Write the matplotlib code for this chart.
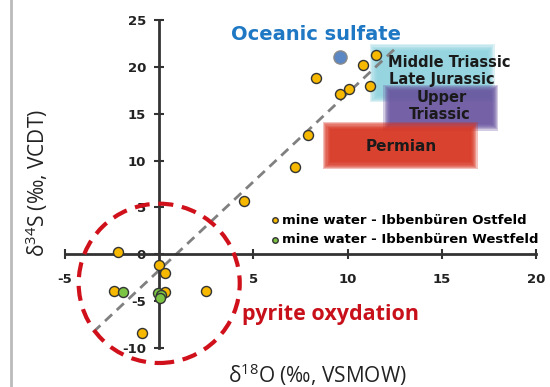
import matplotlib
matplotlib.use("Agg")
import matplotlib.pyplot as plt
from matplotlib.patches import Ellipse, Rectangle
from matplotlib.lines import Line2D

plt.rcParams["axes.unicode_minus"] = False
plt.rcParams["mathtext.fontset"] = "custom"
plt.rcParams["mathtext.rm"] = "Open Sans"

# mine water samples (d18O, d34S)
ost_x = [11.5, 10.8, 8.3, 11.2, 10.1, 9.6, 7.9, 7.2, 4.5, -2.2, 0.0, 0.3, -2.4, 2.5, 0.3, -0.9]
ost_y = [21.3, 20.2, 18.8, 18.0, 17.6, 17.1, 12.7, 9.3, 5.7, 0.2, -1.1, -2.0, -3.9, -3.9, -4.0, -8.4]
west_x = [-1.9, -0.05, 0.1, 0.05]
west_y = [-4.0, -4.1, -4.3, -4.7]
ocean_x = [9.6]
ocean_y = [21.1]
trend_x = [-3.5, 12.5]
trend_y = [-8.3, 21.9]

xticks = [-5, 5, 10, 15, 20]
yticks = [-10, -5, 0, 5, 10, 15, 20, 25]

# period boxes: x0, x1, y0, y1
periods = {
    "cyan": (11.5, 17.5, 16.8, 21.8),
    "purple": (12.2, 17.7, 13.8, 17.5),
    "red": (9.0, 16.6, 9.7, 13.5),
}

fig = plt.figure(figsize=(5.5, 3.87), dpi=100)
ax = fig.add_axes([65 / 550, 39 / 387, 471 / 550, 328 / 387])
ax.set_xlim(-5, 20)
ax.set_ylim(-10, 25)

for s in ["top", "right"]:
    ax.spines[s].set_visible(False)
ax.spines["left"].set_position(("data", 0))
ax.spines["bottom"].set_position(("data", 0))
for s in ["left", "bottom"]:
    ax.spines[s].set_color("#333333")
    ax.spines[s].set_linewidth(2)
ax.set_xticks(xticks)
ax.set_yticks(yticks)
ax.tick_params(direction="inout", length=7, width=1.5, color="#333333",
               labelsize=9.5)
ax.tick_params(axis="x", pad=10)
ax.tick_params(axis="y", pad=6)
for lab in ax.get_xticklabels() + ax.get_yticklabels():
    lab.set_fontweight("bold")
    lab.set_color("#222222")
ax.patch.set_alpha(0)

# period boxes, soft edges
cols = {"cyan": "#8fd3df", "purple": "#6a559f", "red": "#d8321f"}
for k, (x0, x1, y0, y1) in periods.items():
    for i in range(7):
        pad = 0.3 - i * 0.06
        r = Rectangle((x0 - pad, y0 - pad * 2), x1 - x0 + 2 * pad, y1 - y0 + 4 * pad,
                      color=cols[k], alpha=0.3, lw=0, clip_on=False, zorder=1)
        ax.add_patch(r)

tk = dict(fontweight="bold", color="#1a1a1a", ha="center", va="center", zorder=6)
ax.text(15.4, 20.5, "Middle Triassic", fontsize=10.5, **tk)
ax.text(15.0, 18.6, "Late Jurassic", fontsize=10.5, **tk)
ax.text(15.0, 16.7, "Upper", fontsize=10.5, **tk)
ax.text(14.9, 14.9, "Triassic", fontsize=10.5, **tk)
ax.text(12.85, 11.55, "Permian", fontsize=11, **tk)

# trend line
ax.plot(trend_x, trend_y, color="#808080", lw=2, ls=(0, (3.5, 2.3)), zorder=2, clip_on=False)

# pyrite oxidation field
ax.add_patch(Ellipse((0.0, -3.1), 8.55, 17.0, fill=False, ec="#d0111b", lw=3,
                     ls=(0, (3.6, 2.1)), clip_on=False, zorder=3))

ax.scatter(ocean_x, ocean_y, s=90, color="#5b87c5", edgecolor="#8a8a8a", lw=1,
           zorder=4, clip_on=False)
ax.scatter(ost_x, ost_y, s=52, color="#f7b800", edgecolor="#333333", lw=1,
           zorder=5, clip_on=False, label="mine water - Ibbenbüren Ostfeld")
ax.scatter(west_x, west_y, s=52, color="#7cc443", edgecolor="#333333", lw=1,
           zorder=5, clip_on=False, label="mine water - Ibbenbüren Westfeld")

leg = ax.legend(loc="upper left", bbox_to_anchor=(0.425, 0.425), frameon=False,
                markerscale=0.55, handletextpad=0.15, borderaxespad=0, labelspacing=0.5,
                handlelength=0.7, prop=dict(weight="bold", size=9.5))

ax.text(8.3, 23.5, "Oceanic sulfate", fontsize=14, fontweight="bold", color="#1f78c4",
        ha="center", va="center")
ax.text(9.08, -6.45, "pyrite oxydation", fontsize=15.5, fontweight="bold", color="#c8101a",
        ha="center", va="center", family="Open Sans")

fig.text(317 / 550, 4 / 387, "δ$^{18}$O (‰, VSMOW)", fontsize=15, ha="center",
         va="baseline", family="Open Sans", color="#222222")
fig.text(37 / 550, 1 - 183 / 387, "δ$^{34}$S (‰, VCDT)", fontsize=15, ha="center",
         va="center", rotation=90, family="Open Sans", color="#222222")

fig.add_artist(Line2D([11 / 550, 11 / 550], [0, 1], color="#bbbbbb", lw=2))

fig.savefig("out.png", dpi=100)
